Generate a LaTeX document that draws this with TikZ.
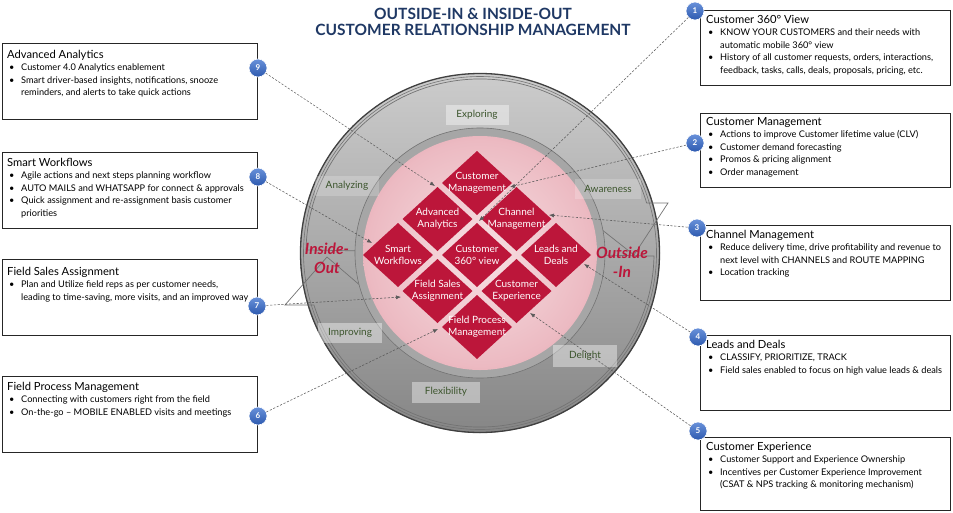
\documentclass[tikz,border=0pt]{standalone}
\usepackage{fontspec}
\setmainfont{Lato}
\usetikzlibrary{arrows.meta,calc}
\definecolor{crimson}{RGB}{188,22,58}
\definecolor{navy}{RGB}{31,56,100}
\definecolor{ringgreen}{RGB}{60,85,45}
\definecolor{badgetop}{RGB}{105,145,218}
\definecolor{badgebot}{RGB}{45,90,175}
\definecolor{linegray}{RGB}{90,90,90}
\definecolor{pinkin}{RGB}{247,224,227}
\definecolor{pinkmid}{RGB}{236,186,194}
\definecolor{pinkout}{RGB}{204,108,124}
\definecolor{ringtop}{RGB}{204,204,204}
\definecolor{ringmid}{RGB}{176,176,176}
\definecolor{ringbot}{RGB}{134,134,134}
\pgfdeclareradialshading{pinkdisc}{\pgfpoint{0bp}{0bp}}{color(0bp)=(pinkin); color(24bp)=(pinkmid); color(50bp)=(pinkout); color(72bp)=(pinkout)}
\tikzset{
  infobox/.style={draw=black!85, line width=0.8pt, fill=white, rectangle, inner sep=0pt, anchor=north west},
  infotext/.style={anchor=north west, inner sep=0pt, align=left, font=\fontsize{9.2}{12.5}\selectfont},
  badge/.style={circle, top color=badgetop, bottom color=badgebot, draw=white, line width=0.6pt, minimum size=18pt, inner sep=0pt, text=white, font=\fontsize{8}{8}\selectfont\bfseries},
  connector/.style={draw=linegray, line width=0.55pt, dash pattern=on 2.2pt off 1.6pt, -{Latex[length=5pt,width=4pt]}},
  ringlabel/.style={fill=white, fill opacity=0.4, text opacity=1, text=ringgreen, font=\fontsize{10}{11}\selectfont, minimum height=20pt, inner sep=0pt},
  dmdfill/.style={fill=crimson},
  dmdtext/.style={text=white, align=center, font=\fontsize{10}{12}\selectfont, inner sep=0pt},
  sidetext/.style={text=crimson, font=\fontsize{15.5}{19}\selectfont\bfseries\itshape, align=center, inner sep=0pt},
  circarrow/.style={draw=black!55, line width=0.7pt},
}
\newcommand{\crmhead}[1]{{\fontsize{11.2}{12}\selectfont #1}}
\newcommand{\crmbul}{\makebox[14pt][l]{\hspace{2pt}\textbullet}}
\newcommand{\crmcont}{\hspace{14pt}}
\newcommand{\crmdmd}[4]{%
  \fill[dmdfill] (#2-35,#3) -- (#2,#3-32) -- (#2+35,#3) -- (#2,#3+32) -- cycle;
  \node[dmdtext] (#1) at (#2,#3) {#4};}
\begin{document}
\begin{tikzpicture}[x=1pt,y=-1pt]
\useasboundingbox (0,0) rectangle (953,512);
\coordinate (C) at (480,253);
% outer ring
\shade[top color=ringtop, middle color=ringmid, bottom color=ringbot] (C) circle (180);
\draw[black!75, line width=1.3pt] (C) circle (179.5);
\draw[black!55, line width=0.6pt] (C) circle (176.5);
% circular arrows
\draw[circarrow] ($(C)+(181:124)$) arc[start angle=181, end angle=336.2, radius=124]
  -- (568,203) -- (634,255) -- (668,203) -- ($(C)+(343.3:174)$)
  arc[start angle=343.3, end angle=181, radius=174] -- cycle;
\draw[circarrow] ($(C)+(1:124)$) arc[start angle=1, end angle=155.2, radius=124]
  -- (383,305) -- (327,257) -- (285,305) -- ($(C)+(162.6:174)$)
  arc[start angle=162.6, end angle=1, radius=174] -- cycle;
% inner ring and pink disc
\fill[black!35] (C) circle (125);
\draw[black!55, line width=0.6pt] (C) circle (125);
\shade[shading=pinkdisc] (C) circle (117);
% diamonds
\crmdmd{dCM}{477}{183}{Customer\\Management}
\crmdmd{dAA}{437.5}{219}{Advanced\\Analytics}
\crmdmd{dChM}{516.5}{219}{Channel\\Management}
\crmdmd{dSW}{398}{255}{Smart\\Workflows}
\crmdmd{dV}{477}{255}{Customer\\360° view}
\crmdmd{dLD}{556}{255}{Leads and\\Deals}
\crmdmd{dFSA}{437.5}{291}{Field Sales\\Assignment}
\crmdmd{dCE}{516.5}{291}{Customer\\Experience}
\crmdmd{dFPM}{477}{327}{Field Process\\Management}
% ring labels
\node[ringlabel, minimum width=63pt] (lExp) at (477,115) {Exploring};
\node[ringlabel, minimum width=64pt, fill opacity=0.2] (lAna) at (347,186) {Analyzing};
\node[ringlabel, minimum width=66pt, fill opacity=0.2] (lAwa) at (608,189) {Awareness};
\node[ringlabel, minimum width=64pt] (lImp) at (350,333) {Improving};
\node[ringlabel, minimum width=64pt, minimum height=22pt] (lDel) at (585,356) {Delight};
\node[ringlabel, minimum width=68pt, minimum height=21pt] (lFlex) at (446,392) {Flexibility};
\node[sidetext] (inout) at (327,258) {Inside-\\Out};
\node[sidetext] (outin) at (622,262) {Outside\\-In};
% title
\node[text=navy, align=center, font=\fontsize{15.5}{16}\selectfont\bfseries, inner sep=0pt] (title) at (473,22)
  {OUTSIDE-IN \& INSIDE-OUT\\CUSTOMER RELATIONSHIP MANAGEMENT};
% left boxes
\node[infobox, minimum width=255pt, minimum height=76pt] (bAA) at (2,43) {};
\node[infotext] (tAA) at (7,50) {\crmhead{Advanced Analytics}\\
  \crmbul Customer 4.0 Analytics enablement\\
  \crmbul Smart driver-based insights, notifications, snooze\\
  \crmcont reminders, and alerts to take quick actions};
\node[infobox, minimum width=255pt, minimum height=76pt] (bSW) at (2,152) {};
\node[infotext] (tSW) at (7,158) {\crmhead{Smart Workflows}\\
  \crmbul Agile actions and next steps planning workflow\\
  \crmbul AUTO MAILS and WHATSAPP for connect \& approvals\\
  \crmbul Quick assignment and re-assignment basis customer\\
  \crmcont priorities};
\node[infobox, minimum width=255pt, minimum height=76pt] (bFSA) at (2,259) {};
\node[infotext] (tFSA) at (7,267) {\crmhead{Field Sales Assignment}\\
  \crmbul Plan and Utilize field reps as per customer needs,\\
  \crmcont leading to time-saving, more visits, and an improved way};
\node[infobox, minimum width=255pt, minimum height=76pt] (bFPM) at (2,376) {};
\node[infotext] (tFPM) at (7,382) {\crmhead{Field Process Management}\\
  \crmbul Connecting with customers right from the field\\
  \crmbul On-the-go -- MOBILE ENABLED visits and meetings};
% right boxes
\node[infobox, minimum width=250pt, minimum height=75pt] (bV) at (700,10) {};
\node[infotext] (tV) at (706,15) {\crmhead{Customer 360° View}\\
  \crmbul KNOW YOUR CUSTOMERS and their needs with\\
  \crmcont automatic mobile 360° view\\
  \crmbul History of all customer requests, orders, interactions,\\
  \crmcont feedback, tasks, calls, deals, proposals, pricing, etc.};
\node[infobox, minimum width=250pt, minimum height=74pt] (bCM) at (700,113) {};
\node[infotext] (tCM) at (706,117) {\crmhead{Customer Management}\\
  \crmbul Actions to improve Customer lifetime value (CLV)\\
  \crmbul Customer demand forecasting\\
  \crmbul Promos \& pricing alignment\\
  \crmbul Order management};
\node[infobox, minimum width=250pt, minimum height=75pt] (bChM) at (700,225) {};
\node[infotext] (tChM) at (706,230) {\crmhead{Channel Management}\\
  \crmbul Reduce delivery time, drive profitability and revenue to\\
  \crmcont next level with CHANNELS and ROUTE MAPPING\\
  \crmbul Location tracking};
\node[infobox, minimum width=250pt, minimum height=75pt] (bLD) at (700,335) {};
\node[infotext] (tLD) at (706,340) {\crmhead{Leads and Deals}\\
  \crmbul CLASSIFY, PRIORITIZE, TRACK\\
  \crmbul Field sales enabled to focus on high value leads \& deals};
\node[infobox, minimum width=250pt, minimum height=73pt] (bCE) at (700,437) {};
\node[infotext] (tCE) at (706,442) {\crmhead{Customer Experience}\\
  \crmbul Customer Support and Experience Ownership\\
  \crmbul Incentives per Customer Experience Improvement\\
  \crmcont (CSAT \& NPS tracking \& monitoring mechanism)};
% badges
\node[badge] (n1) at (695,11) {1};
\node[badge] (n2) at (695,143) {2};
\node[badge] (n3) at (697,228) {3};
\node[badge] (n4) at (698,337) {4};
\node[badge] (n5) at (698,431) {5};
\node[badge] (n6) at (258,416) {6};
\node[badge] (n7) at (257,306) {7};
\node[badge] (n8) at (258,177) {8};
\node[badge] (n9) at (258,68) {9};
% connector targets
\coordinate (t1) at (479,221);
\coordinate (t2) at (510,187);
\coordinate (t3) at (549,215);
\coordinate (t4) at (584,264);
\coordinate (t5) at (530,313);
\coordinate (t6) at (438,329);
\coordinate (t7) at (401,297);
\coordinate (t8) at (372,243);
\coordinate (t9) at (435,186);
\draw[connector] (n1) -- (t1);
\draw[connector] (n2) -- (t2);
\draw[connector] (n3) -- (t3);
\draw[connector] (n4) -- (t4);
\draw[connector] (n5) -- (t5);
\draw[connector] (n6) -- (t6);
\draw[connector] (n7) -- (t7);
\draw[connector] (n8) -- (t8);
\draw[connector] (n9) -- (t9);
\end{tikzpicture}
\end{document}
